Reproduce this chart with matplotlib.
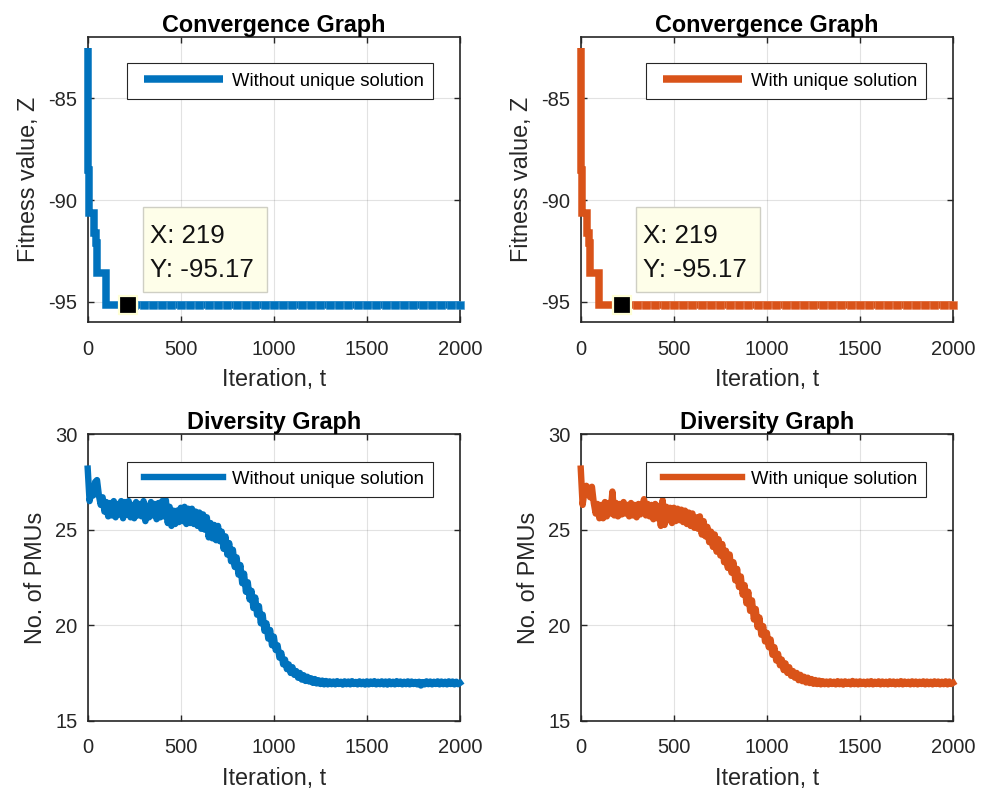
import numpy as np
import matplotlib
matplotlib.use("Agg")
import matplotlib.pyplot as plt
from matplotlib.legend_handler import HandlerLine2D
from matplotlib.patches import Rectangle

plt.rcParams["font.family"] = ["Liberation Sans", "DejaVu Sans"]
plt.rcParams["axes.unicode_minus"] = False

BLUE = "#0072BD"
ORANGE = "#D95319"
INK = "#262626"

# ---------------------------------------------------------------- data
# Best fitness (step curve): iteration where each level starts, and its value
conv_iter = [1, 2, 3, 4, 6, 9, 33, 42, 51, 96, 2000]
conv_without = [-82.5, -84.5, -86.5, -88.5, -89.9, -90.65, -91.6, -92.1, -93.6, -95.17, -95.17]
conv_with = [-82.5, -84.5, -86.5, -88.5, -89.9, -90.65, -91.6, -92.1, -93.6, -95.17, -95.17]

tip_x = 219
tip_y = -95.17

# Population diversity (number of PMUs), sampled every 10 iterations
div_iter = np.arange(0, 2001, 10)
div_without = [
    28.2, 26.5, 27.0, 26.8, 27.5, 27.6, 26.8, 26.3, 26.7, 25.95,
    26.45, 25.7, 26.4, 25.75, 26.5, 25.65, 26.35, 25.8, 26.5, 25.6,
    26.45, 25.8, 26.5, 25.65, 26.3, 25.6, 26.45, 25.75, 26.35, 25.7,
    26.5, 25.45, 26.25, 25.65, 26.45, 25.75, 26.35, 25.55, 26.4, 25.65,
    26.5, 25.7, 26.55, 25.35, 26.2, 25.2, 26.0, 25.3, 26.0, 25.4,
    26.15, 25.45, 26.2, 25.3, 26.1, 25.35, 26.1, 25.3, 25.95, 25.2,
    25.9, 25.05, 25.8, 25.0, 25.65, 24.6, 25.35, 24.55, 25.25, 24.45,
    25.2, 24.4, 24.9, 24.0, 24.65, 23.7, 24.3, 23.35, 23.95, 23.05,
    23.55, 22.65, 23.15, 22.2, 22.7, 21.75, 22.25, 21.35, 21.8, 20.9,
    21.45, 20.55, 21.0, 20.1, 20.55, 19.7, 20.1, 19.3, 19.75, 18.95,
    19.4, 18.7, 18.95, 18.3, 18.55, 17.95, 18.2, 17.7, 17.95, 17.5,
    17.8, 17.4, 17.6, 17.25, 17.5, 17.15, 17.38, 17.08, 17.3, 17.05,
    17.22, 16.98, 17.18, 16.95, 17.12, 16.92, 17.1, 16.9, 17.08, 16.9,
    17.06, 16.91, 17.05, 16.9, 17.07, 16.92, 17.04, 16.89, 17.06, 16.91,
    17.05, 16.9, 17.07, 16.92, 17.03, 16.9, 17.06, 16.91, 17.04, 16.89,
    17.06, 16.9, 17.05, 16.92, 17.07, 16.9, 17.04, 16.91, 17.06, 16.9,
    17.05, 16.89, 17.06, 16.91, 17.04, 16.9, 17.07, 16.92, 17.05, 16.9,
    17.04, 16.91, 17.06, 16.9, 17.05, 16.92, 17.03, 16.9, 17.04, 16.84,
    17.02, 16.9, 17.06, 16.91, 17.05, 16.9, 17.04, 16.92, 17.06, 16.9,
    17.05, 16.91, 17.04, 16.9, 17.06, 16.92, 17.05, 16.9, 17.04, 16.91,
    16.98,
]
div_with = [
    28.2, 26.3, 27.0, 27.3, 27.15, 26.7, 27.25, 26.4, 25.85, 26.35,
    25.6, 26.3, 25.6, 26.45, 25.7, 26.4, 25.85, 27.0, 25.75, 26.4,
    25.7, 26.35, 25.8, 26.45, 25.85, 26.3, 25.7, 26.4, 25.75, 26.3,
    25.65, 26.35, 25.8, 26.25, 26.6, 25.75, 26.35, 25.7, 26.3, 25.55,
    26.35, 25.6, 26.25, 25.2, 26.55, 25.25, 26.2, 25.5, 26.15, 25.35,
    26.15, 25.45, 26.1, 25.5, 26.05, 25.4, 26.0, 25.3, 25.9, 25.2,
    25.85, 25.1, 25.65, 25.05, 25.7, 24.75, 25.45, 24.65, 25.15, 24.35,
    24.9, 24.1, 24.75, 23.85, 24.5, 23.65, 24.25, 23.3, 23.9, 23.0,
    23.7, 22.75, 23.3, 22.35, 22.95, 22.0, 22.55, 21.6, 22.1, 21.15,
    21.75, 20.75, 21.3, 20.3, 20.85, 19.9, 20.4, 19.5, 19.95, 19.15,
    19.6, 18.85, 19.25, 18.45, 18.85, 18.15, 18.5, 17.9, 18.2, 17.65,
    18.0, 17.5, 17.8, 17.35, 17.6, 17.25, 17.5, 17.12, 17.4, 17.07,
    17.3, 17.0, 17.25, 16.97, 17.18, 16.93, 17.13, 16.92, 17.1, 16.9,
    17.07, 16.91, 17.05, 16.9, 17.06, 16.92, 17.04, 16.9, 17.07, 16.91,
    17.05, 16.89, 17.06, 16.92, 17.04, 16.9, 17.08, 16.91, 17.05, 16.9,
    17.06, 16.92, 17.04, 16.9, 17.05, 16.91, 17.07, 16.9, 17.04, 16.92,
    17.06, 16.9, 17.05, 16.91, 17.04, 16.9, 17.06, 16.92, 17.05, 16.9,
    17.04, 16.91, 17.07, 16.9, 17.05, 16.92, 17.04, 16.9, 17.06, 16.91,
    17.05, 16.9, 17.04, 16.92, 17.06, 16.9, 17.05, 16.91, 17.04, 16.9,
    17.06, 16.92, 17.05, 16.9, 17.04, 16.91, 17.06, 16.9, 17.05, 16.92,
    16.98,
]

x_ticks = [0, 500, 1000, 1500, 2000]
conv_ticks = [-95, -90, -85]
div_ticks = [15, 20, 25, 30]


class InsetLineHandler(HandlerLine2D):
    """Legend line that starts a little to the right of the handle box."""

    def __init__(self, inset, **kw):
        super().__init__(**kw)
        self.inset = inset

    def create_artists(self, legend, orig_handle, xdescent, ydescent,
                       width, height, fontsize, trans):
        artists = super().create_artists(legend, orig_handle, xdescent, ydescent,
                                         width, height, fontsize, trans)
        line = artists[0]
        xd = np.asarray(line.get_xdata(), dtype=float)
        xd[0] = xd[0] + self.inset * fontsize
        line.set_xdata(xd)
        return artists


def style_axes(ax, yticks, ylim, ylabel, title):
    ax.set_xlim(0, 2000)
    ax.set_ylim(*ylim)
    ax.set_xticks(x_ticks)
    ax.set_yticks(yticks)
    ax.grid(True, color=INK, alpha=0.13, linewidth=0.8)
    ax.set_axisbelow(True)
    ax.tick_params(direction="in", length=4, width=1.0, top=True, right=True,
                   colors=INK, labelsize=14.5)
    ax.tick_params(axis="x", pad=12.5)
    ax.tick_params(axis="y", pad=7.5)
    for s in ax.spines.values():
        s.set_color(INK)
        s.set_linewidth(1.2)
    ax.set_xlabel("Iteration, t", fontsize=16.8, color=INK, labelpad=7)
    ax.set_ylabel(ylabel, fontsize=16.8, color=INK, labelpad=6)
    ax.set_title(title, fontsize=16.8, fontweight="bold", color="black", pad=4)


def add_legend(ax, line, label, anchor_y):
    leg = ax.legend(handles=[line], labels=[label], loc="upper right",
                    bbox_to_anchor=(0.9283, anchor_y), borderaxespad=0,
                    fontsize=13.3, handlelength=4.68, handletextpad=0.49,
                    borderpad=0.5, fancybox=False, framealpha=1,
                    edgecolor=INK, handler_map={line: InsetLineHandler(0.4)})
    leg.get_frame().set_linewidth(0.8)
    for t in leg.get_texts():
        t.set_color("black")


def tint(color, amount):
    rgb = np.array(matplotlib.colors.to_rgb(color))
    return tuple(rgb + (1 - rgb) * amount)


def convergence(ax, values, color, label):
    line, = ax.plot(conv_iter, values, drawstyle="steps-post", color=color,
                    lw=5.4, solid_joinstyle="miter", solid_capstyle="butt",
                    clip_on=False, zorder=3)
    # block texture along the flat part of the curve
    seg_x = np.arange(250, 2001, 50)
    idx = np.searchsorted(conv_iter, seg_x, side="right") - 1
    seg_y = np.asarray(values)[idx]
    ax.plot(seg_x, seg_y, ls="none", marker="s", ms=5.4, mfc=color,
            mec=tint(color, 0.25), mew=0.4, zorder=3.1, clip_on=False)
    style_axes(ax, conv_ticks, (-96, -82), "Fitness value, Z", "Convergence Graph")
    add_legend(ax, line, label, 0.9088)

    # data tip
    ax.plot([tip_x], [tip_y], marker="s", ms=13.5, mfc="black", mec="#FFFFD6",
            mew=1.6, zorder=6, clip_on=False)
    ax.add_patch(Rectangle((0.1485, 0.1063), 0.3339, 0.2983, transform=ax.transAxes,
                           facecolor="#FEFEE9", edgecolor="#CFCFC4", lw=1.0, zorder=5))
    ax.text(0.167, 0.279, f"X: {tip_x}", transform=ax.transAxes, fontsize=18.6,
            color="#111111", va="baseline", ha="left", zorder=7)
    ax.text(0.167, 0.158, f"Y: {tip_y:.2f}", transform=ax.transAxes, fontsize=18.6,
            color="#111111", va="baseline", ha="left", zorder=7)


def diversity(ax, values, color, label):
    line, = ax.plot(div_iter, values, color=color, lw=4.6,
                    solid_joinstyle="round", clip_on=False, zorder=3)
    style_axes(ax, div_ticks, (15, 30), "No. of PMUs", "Diversity Graph")
    add_legend(ax, line, label, 0.9043)


fig = plt.figure(figsize=(9.81, 7.91), dpi=100)
ax_tl = fig.add_axes([0.0894, 0.5925, 0.3795, 0.3603])
ax_tr = fig.add_axes([0.5920, 0.5925, 0.3795, 0.3603])
ax_bl = fig.add_axes([0.0894, 0.0889, 0.3795, 0.3621])
ax_br = fig.add_axes([0.5920, 0.0889, 0.3795, 0.3621])

convergence(ax_tl, conv_without, BLUE, "Without unique solution")
convergence(ax_tr, conv_with, ORANGE, "With unique solution")
diversity(ax_bl, div_without, BLUE, "Without unique solution")
diversity(ax_br, div_with, ORANGE, "With unique solution")

fig.savefig("out.png", dpi=100, facecolor="white")
